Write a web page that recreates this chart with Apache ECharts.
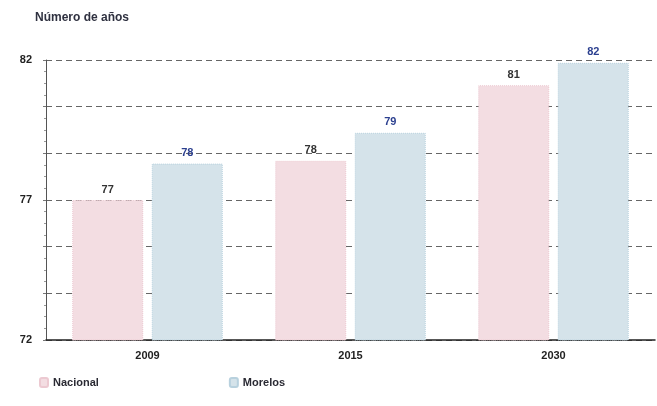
<!DOCTYPE html>
<html><head><meta charset="utf-8">
<script src="https://cdn.jsdelivr.net/npm/echarts@6/dist/echarts.min.js"></script>
<style>html,body{margin:0;padding:0;background:#fff}#c{width:657px;height:406px}</style>
</head><body><div id="c"></div>
<script>
const categories = ['2009', '2015', '2030'];
const nacional = [77.0, 78.4, 81.1];
const morelos = [78.3, 79.4, 81.9];
const yTickLabels = [72, 77, 82];
const seriesNames = ['Nacional', 'Morelos'];

const chart = echarts.init(document.getElementById('c'));
chart.setOption({
  backgroundColor: '#ffffff',
  animation: false,
  textStyle: { fontFamily: 'Liberation Sans, Arial, sans-serif' },
  title: {
    text: 'Número de años', left: 30, top: 7,
    textStyle: { fontSize: 12, fontWeight: 'bold', color: '#2f3140' }
  },
  legend: {
    data: seriesNames, left: 34, top: 372, itemGap: 130,
    itemWidth: 8, itemHeight: 9,
    textStyle: { fontSize: 11, fontWeight: 'bold', color: '#2a2a33' }
  },
  grid: { left: 46, right: 2, top: 60, bottom: 66 },
  xAxis: {
    type: 'category', data: categories,
    axisLine: { lineStyle: { color: '#222', width: 1.5 } },
    axisTick: { show: false },
    axisLabel: { fontSize: 11, fontWeight: 'bold', color: '#222', margin: 10 }
  },
  yAxis: {
    type: 'value', min: 72, max: 82, interval: 5 / 3,
    axisLine: { show: true, lineStyle: { color: '#555' } },
    axisTick: { show: true, length: 3, lineStyle: { color: '#777' } },
    minorTick: { show: true, splitNumber: 4, length: 2, lineStyle: { color: '#999' } },
    axisLabel: {
      fontSize: 11, fontWeight: 'bold', color: '#222', margin: 14,
      formatter: v => yTickLabels.includes(Math.round(v * 1000) / 1000) ? String(Math.round(v)) : ''
    },
    splitLine: { show: true, lineStyle: { color: '#666', type: [6, 4], width: 1 } }
  },
  series: [
    {
      name: seriesNames[0], type: 'bar', data: nacional, barWidth: 71, barGap: '12%',
      itemStyle: { color: '#f3dde2', borderColor: '#ecc9d1', borderWidth: 1, borderType: 'dotted' },
      label: { show: true, position: 'top', fontSize: 11, fontWeight: 'bold', color: '#333',
        formatter: p => Math.round(p.value) }
    },
    {
      name: seriesNames[1], type: 'bar', data: morelos, barWidth: 71,
      itemStyle: { color: '#d5e3ea', borderColor: '#b8d1de', borderWidth: 1, borderType: 'dotted' },
      label: { show: true, position: 'top', fontSize: 11, fontWeight: 'bold', color: '#2b3f8f',
        formatter: p => Math.round(p.value) }
    }
  ]
});
</script></body></html>
